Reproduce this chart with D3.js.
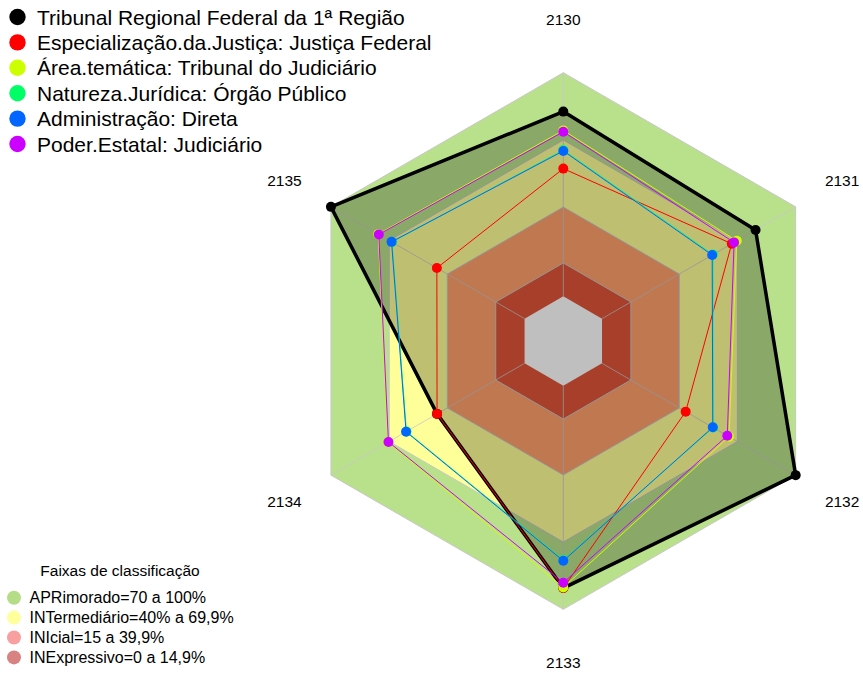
<!DOCTYPE html>
<html>
<head>
<meta charset="utf-8">
<script src="https://cdn.jsdelivr.net/npm/d3@7/dist/d3.min.js"></script>
<style>
    body { margin: 0; background: #fff; }
    svg { display: block; font-family: "Liberation Sans", Arial, sans-serif; }
</style>
</head>
<body>
<div id="radar"></div>
<script>
'use strict'

////////////////////////////////////
//////////////// data //////////////
////////////////////////////////////

const axes = ['2130', '2131', '2132', '2133', '2134', '2135']

const seriesNames = [
    'Tribunal Regional Federal da 1ª Região',
    'Especialização.da.Justiça: Justiça Federal',
    'Área.temática: Tribunal do Judiciário',
    'Natureza.Jurídica: Órgão Público',
    'Administração: Direta',
    'Poder.Estatal: Judiciário'
]

// % per axis, same order as axes
const trf1      = [82.6, 79.3, 100.0, 90.5, 45.2, 100.0]
const justFed   = [57.1, 67.0, 43.2, 90.5, 45.2, 45.3]
const areaTem   = [74.2, 69.6, 65.6, 90.2, 70.6, 75.6]
const natJur    = [65.4, 57.3, 57.4, 78.0, 61.0, 68.5]
const adminDir  = [65.0, 56.9, 57.2, 78.3, 61.2, 68.7]
const poderJud  = [73.6, 68.2, 64.7, 88.1, 70.3, 75.3]

const seriesValues = [trf1, justFed, areaTem, natJur, adminDir, poderJud]
const seriesColors = ['#000000', '#FF0000', '#CCFF00', '#00FF66', '#0066FF', '#CC00FF']

// faixas de classificacao (upper limit of each band)
const bandNames = [
    'APRimorado=70 a 100%',
    'INTermediário=40% a 69,9%',
    'INIcial=15 a 39,9%',
    'INExpressivo=0 a 14,9%'
]
const bandLimits = [100, 69.9, 39.9, 14.9]
const bandFill   = ['#B9E08B', '#FFFF99', '#FFA06B', '#E05538']
const bandLegend = ['#B5DD88', '#FFFF9C', '#F8A0A0', '#D88282']

////////////////////////////////////
//////////// svg setup /////////////
////////////////////////////////////

const svgWidth = 863
const svgHeight = 673

const cx = 563.3
const cy = 341
const R = 268.3

const svg = d3.select('#radar')
    .append('svg')
    .attr('width', svgWidth)
    .attr('height', svgHeight)

const plot = svg.append('g')
    .attr('transform', 'translate(' + cx + ',' + cy + ')')

////////////////////////////////////
//////////////scales////////////////
////////////////////////////////////

// center is not zero: value 0 sits at 1/6 of the radius
const rScale = d3.scaleLinear()
    .domain([0, 100])
    .range([R / 6, R])

const angle = d3.scalePoint()
    .domain(axes)
    .range([0, 2 * Math.PI * (axes.length - 1) / axes.length])

const radial = d3.lineRadial()
    .angle((d, i) => angle(axes[i]))
    .radius(d => rScale(d))
    .curve(d3.curveLinearClosed)

function pos(v, i) {
    const a = angle(axes[i])
    return [Math.sin(a) * rScale(v), -Math.cos(a) * rScale(v)]
}

////////////////////////////////////
//////////////bands/////////////////
////////////////////////////////////

bandLimits.forEach((lim, k) => {
    plot.append('path')
        .attr('d', radial(axes.map(() => lim)))
        .attr('fill', bandFill[k])
        .attr('stroke', '#c8c8c8')
        .attr('stroke-width', 1)
})

// empty middle
plot.append('path')
    .attr('d', radial(axes.map(() => 0)))
    .attr('fill', '#ffffff')

// axis lines
plot.selectAll('.axis-line')
    .data(axes)
    .join('line')
    .attr('class', 'axis-line')
    .attr('x1', (d, i) => pos(0, i)[0])
    .attr('y1', (d, i) => pos(0, i)[1])
    .attr('x2', (d, i) => pos(100, i)[0])
    .attr('y2', (d, i) => pos(100, i)[1])
    .attr('stroke', '#c8c8c8')
    .attr('stroke-opacity', 0.8)
    .attr('stroke-width', 1)

// axis labels at 1.2 R
plot.selectAll('.axis-label')
    .data(axes)
    .join('text')
    .attr('class', 'axis-label')
    .attr('x', (d, i) => Math.sin(angle(d)) * R * 1.2)
    .attr('y', (d, i) => -Math.cos(angle(d)) * R * 1.2)
    .attr('text-anchor', 'middle')
    .attr('dominant-baseline', 'central')
    .attr('font-size', 15.5)
    .attr('fill', '#000')
    .text(d => d)

////////////////////////////////////
//////////////series////////////////
////////////////////////////////////

seriesValues.forEach((vals, s) => {
    const g = plot.append('g').attr('class', 'series')
    const main = s === 0

    g.append('path')
        .attr('d', radial(vals))
        .attr('fill', main ? 'rgba(0,0,0,0.25)' : 'none')
        .attr('stroke', seriesColors[s])
        .attr('stroke-width', main ? 3.5 : 1)
        .attr('stroke-linejoin', 'round')

    g.selectAll('circle')
        .data(vals)
        .join('circle')
        .attr('cx', (d, i) => pos(d, i)[0])
        .attr('cy', (d, i) => pos(d, i)[1])
        .attr('r', 5)
        .attr('fill', seriesColors[s])
})

////////////////////////////////////
//////////////legends///////////////
////////////////////////////////////

const legTop = svg.append('g')

legTop.selectAll('circle')
    .data(seriesNames)
    .join('circle')
    .attr('cx', 17.5)
    .attr('cy', (d, i) => 17 + i * 25.4)
    .attr('r', 8.2)
    .attr('fill', (d, i) => seriesColors[i])

legTop.selectAll('text')
    .data(seriesNames)
    .join('text')
    .attr('x', 37)
    .attr('y', (d, i) => 17 + i * 25.4)
    .attr('dominant-baseline', 'central')
    .attr('font-size', 21)
    .attr('fill', '#000')
    .text(d => d)

const legBand = svg.append('g')

legBand.append('text')
    .attr('x', 120)
    .attr('y', 570)
    .attr('text-anchor', 'middle')
    .attr('dominant-baseline', 'central')
    .attr('font-size', 15.5)
    .attr('fill', '#000')
    .text('Faixas de classificação')

legBand.selectAll('circle')
    .data(bandNames)
    .join('circle')
    .attr('cx', 14)
    .attr('cy', (d, i) => 597.7 + i * 19.9)
    .attr('r', 7)
    .attr('fill', (d, i) => bandLegend[i])

legBand.selectAll('.band-label')
    .data(bandNames)
    .join('text')
    .attr('class', 'band-label')
    .attr('x', 29.5)
    .attr('y', (d, i) => 597.7 + i * 19.9)
    .attr('dominant-baseline', 'central')
    .attr('font-size', 16)
    .attr('fill', '#000')
    .text(d => d)
</script>
</body>
</html>
